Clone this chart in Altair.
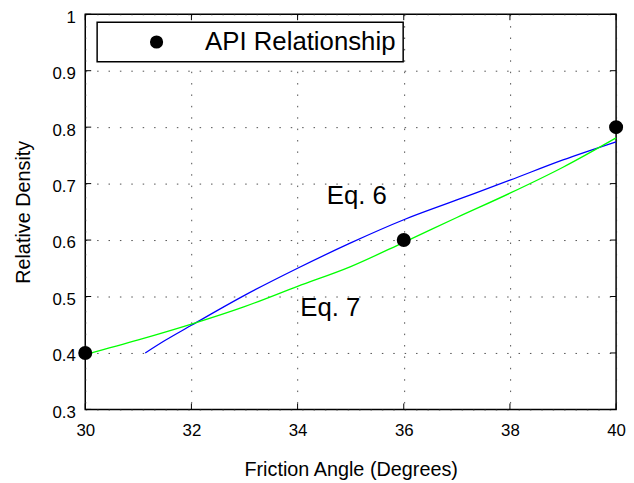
import altair as alt
import pandas as pd

# ---- data ----
eq6_x = [31.13, 31.5, 32, 33, 34, 35, 36, 37, 38, 39, 40]
eq6_y = [0.400, 0.422, 0.449, 0.502, 0.550, 0.595, 0.636, 0.671, 0.706, 0.742, 0.774]

eq7_x = [30, 31, 32, 33, 34, 35, 36, 37, 38, 39, 40]
eq7_y = [0.397, 0.423, 0.451, 0.482, 0.518, 0.553, 0.596, 0.640, 0.683, 0.729, 0.781]

api_x = [30, 36, 40]
api_y = [0.4, 0.6, 0.8]
api_name = "API Relationship"

labels_text = ["Eq. 6", "Eq. 7"]
labels_x = [34.55, 34.05]
labels_y = [0.678, 0.479]

x_ticks = [30, 32, 34, 36, 38, 40]
y_ticks = [0.3, 0.4, 0.5, 0.6, 0.7, 0.8, 0.9, 1.0]

W, H = 536, 399
FONT = "Liberation Sans"

eq6 = pd.DataFrame({"x": eq6_x, "y": eq6_y})
eq7 = pd.DataFrame({"x": eq7_x, "y": eq7_y})
api = pd.DataFrame({"x": api_x, "y": api_y, "s": [api_name] * len(api_x)})
lab = pd.DataFrame({"x": labels_x, "y": labels_y, "t": labels_text})
xt = pd.DataFrame({"x": x_ticks})
yt = pd.DataFrame({"y": y_ticks})

xscale = alt.Scale(domain=[30, 40], nice=False, zero=False)
yscale = alt.Scale(domain=[0.3, 1.0], nice=False, zero=False)

xaxis = alt.Axis(values=x_ticks, title="Friction Angle (Degrees)", grid=True,
                 ticks=False, tickSize=0, domain=False, labelPadding=13,
                 labelFlush=False, titlePadding=22, labelFontSize=17, titleFontSize=20)
yaxis = alt.Axis(values=y_ticks, title="Relative Density", grid=True,
                 ticks=False, tickSize=0, domain=False, labelPadding=10,
                 labelFlush=False, labelOffset=3,
                 titlePadding=19, labelFontSize=17, titleFontSize=20,
                 labelExpr="datum.value == 1 ? '1' : format(datum.value, '.1f')")

def X(f="x"):
    return alt.X(f + ":Q", scale=xscale, axis=xaxis)

def Y(f="y"):
    return alt.Y(f + ":Q", scale=yscale, axis=yaxis)

line6 = alt.Chart(eq6).mark_line(color="#0000ff", strokeWidth=1.3,
                                 interpolate="monotone").encode(x=X(), y=Y())
line7 = alt.Chart(eq7).mark_line(color="#00ff00", strokeWidth=1.3,
                                 interpolate="monotone").encode(x=X(), y=Y())

pts = alt.Chart(api).mark_point(filled=True, size=200, opacity=1, shape="circle").encode(
    x=X(), y=Y(),
    color=alt.Color("s:N", scale=alt.Scale(domain=[api_name], range=["black"]),
                    legend=alt.Legend(title=None, orient="none", legendX=12, legendY=8,
                                      strokeColor="black", fillColor="white", padding=7,
                                      symbolOffset=40, labelOffset=36, symbolSize=177,
                                      symbolType="circle", labelFontSize=26,
                                      labelFont=FONT, labelColor="black", labelLimit=500,
                                      symbolStrokeWidth=0)),
)

txt = alt.Chart(lab).mark_text(align="left", baseline="middle", fontSize=26,
                               font=FONT, color="black").encode(x=X(), y=Y(), text="t:N")

tick_b = alt.Chart(xt).mark_rule(color="black", strokeWidth=1).encode(
    x=X(), y=alt.value(H), y2=alt.value(H - 6))
tick_t = alt.Chart(xt).mark_rule(color="black", strokeWidth=1).encode(
    x=X(), y=alt.value(0), y2=alt.value(6))
tick_l = alt.Chart(yt).mark_rule(color="black", strokeWidth=1).encode(
    y=Y(), x=alt.value(0), x2=alt.value(6))
tick_r = alt.Chart(yt).mark_rule(color="black", strokeWidth=1).encode(
    y=Y(), x=alt.value(W), x2=alt.value(W - 6))

chart = alt.layer(tick_b, tick_t, tick_l, tick_r, line6, line7, pts, txt).properties(
    width=W, height=H,
    autosize=alt.AutoSizeParams(type="none"),
    padding={"left": 78, "top": 4, "right": 10, "bottom": 72},
).configure_view(
    stroke="black", strokeWidth=1.5
).configure_axis(
    gridColor="#222222", gridDash=[1.5, 10], gridWidth=1, gridOpacity=0.8,
    labelFont=FONT, titleFont=FONT, labelColor="black", titleColor="black",
    titleFontWeight="normal",
).configure_legend(
    strokeWidth=1.5, cornerRadius=0
)

chart.save("out.html", embed_options={"renderer": "svg", "actions": False})
